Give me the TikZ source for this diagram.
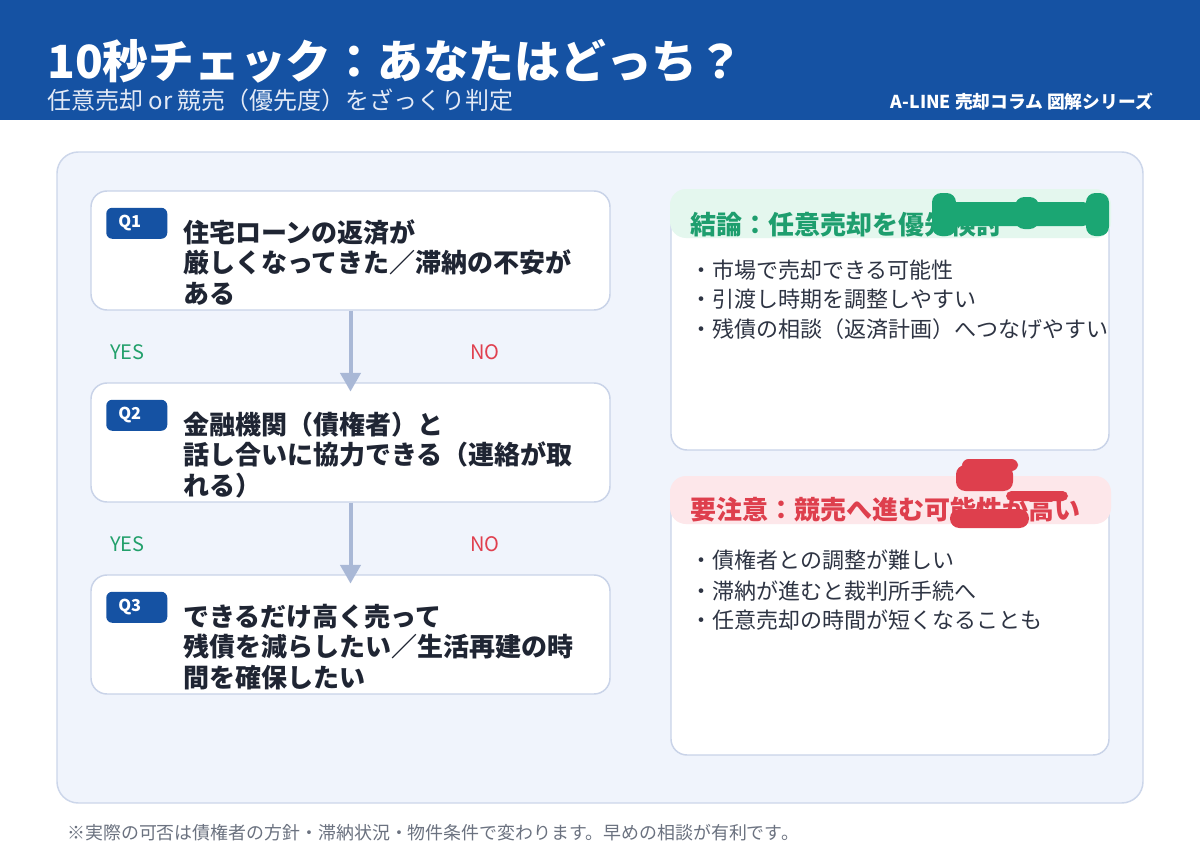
\documentclass[tikz,border=0pt]{standalone}
\usepackage{fontspec}
\setmainfont{Noto Sans CJK JP}
\usetikzlibrary{arrows.meta}
\definecolor{hdrblue}{HTML}{1552A3}
\definecolor{panelbg}{HTML}{F0F4FC}
\definecolor{panelborder}{HTML}{CCD6EA}
\definecolor{boxborder}{HTML}{C9D3E8}
\definecolor{arrowcol}{HTML}{A9B8D6}
\definecolor{yesgreen}{HTML}{22A06B}
\definecolor{nored}{HTML}{E0404F}
\definecolor{greenband}{HTML}{E4F7EE}
\definecolor{greentitle}{HTML}{1E9E6E}
\definecolor{scribgreen}{HTML}{1BA673}
\definecolor{redband}{HTML}{FDE7EA}
\definecolor{redtitle}{HTML}{DE3F4D}
\definecolor{textdark}{HTML}{1F2533}
\definecolor{bullettext}{HTML}{2E3443}
\definecolor{footgray}{HTML}{6B7280}
\definecolor{subwhite}{HTML}{E3EAF6}
\begin{document}
\begin{tikzpicture}[x=0.75pt,y=-0.75pt,
  qbox/.style={draw=boxborder, line width=1.1pt, fill=white, rounded corners=12pt,
    minimum width=389.25pt, minimum height=89.25pt, inner sep=0},
  badge/.style={fill=hdrblue, rounded corners=4.5pt, anchor=north west,
    minimum height=23.25pt, text width=27.75pt, inner xsep=9pt, inner ysep=0, align=left,
    text=white, font=\fontsize{12.3}{14}\selectfont\bfseries},
  qtext/.style={anchor=base west, inner sep=0, text=textdark, font=\fontsize{19.5}{23}\selectfont\bfseries},
  yeslbl/.style={anchor=west, inner sep=0, text=yesgreen, font=\fontsize{15}{18}\selectfont},
  nolbl/.style={anchor=west, inner sep=0, text=nored, font=\fontsize{15}{18}\selectfont},
  flow/.style={draw=arrowcol, line width=3pt, -{Triangle[width=15pt,length=14pt]}, shorten >=-7pt},
  card/.style={fill=white, draw=boxborder, line width=1.1pt, rounded corners=12pt},
  ctitle/.style={anchor=base west, inner sep=0, font=\fontsize{19.5}{23}\selectfont\bfseries},
  bullet/.style={anchor=base west, inner sep=0, text=bullettext, font=\fontsize{16.5}{20}\selectfont},
  scrib/.style={rounded corners=7pt}
]
\useasboundingbox (0,0) rectangle (1200,860);
\fill[white] (0,0) rectangle (1200,860);
% header
\fill[hdrblue] (0,0) rectangle (1200,120);
\node[anchor=base west, inner sep=0, text=white, font=\fontsize{34.3}{40}\selectfont\bfseries] (title) at (47,78) {10秒チェック：あなたはどっち？};
\node[anchor=base west, inner sep=0, text=subwhite, font=\fontsize{18}{21}\selectfont] (subtitle) at (47,109) {任意売却 or 競売（優先度）をざっくり判定};
\node[anchor=base east, inner sep=0, text=white, font=\fontsize{13.3}{15}\selectfont\bfseries] (series) at (1153,108) {A-LINE 売却コラム 図解シリーズ};
% panel
\filldraw[fill=panelbg, draw=panelborder, line width=1.1pt, rounded corners=16pt] (57,152) rectangle (1143,803);
% question boxes
\node[qbox] (q1) at (350.5,250.5) {};
\node[qbox] (q2) at (350.5,442.5) {};
\node[qbox] (q3) at (350.5,634.5) {};
\node[badge] (b1) at (106,207.5) {Q1};
\node[badge] (b2) at (106,399.5) {Q2};
\node[badge] (b3) at (106,591.5) {Q3};
\node[qtext] (q1a) at (183,242) {住宅ローンの返済が};
\node[qtext] (q1b) at (183,272.5) {厳しくなってきた／滞納の不安が};
\node[qtext] (q1c) at (183,303) {ある};
\node[qtext] (q2a) at (183,434) {金融機関（債権者）と};
\node[qtext] (q2b) at (183,464.5) {話し合いに協力できる（連絡が取};
\node[qtext] (q2c) at (183,495) {れる）};
\node[qtext] (q3a) at (183,626) {できるだけ高く売って};
\node[qtext] (q3b) at (183,656.5) {残債を減らしたい／生活再建の時};
\node[qtext] (q3c) at (183,687) {間を確保したい};
% arrows
\draw[flow] (q1.south) -- (q2.north);
\draw[flow] (q2.south) -- (q3.north);
% yes/no labels
\node[yeslbl] (y1) at (110,352) {YES};
\node[nolbl] (n1) at (470,352) {NO};
\node[yeslbl] (y2) at (110,544) {YES};
\node[nolbl] (n2) at (470,544) {NO};
% green card
\filldraw[card] (671,191) rectangle (1109,450);
\fill[greenband, rounded corners=12pt] (670,189) rectangle (1111,238);
\node[ctitle, text=greentitle] (gtitle) at (690,234) {結論：任意売却を優先検討};
\node[bullet] (g1) at (690,278) {・市場で売却できる可能性};
\node[bullet] (g2) at (690,307) {・引渡し時期を調整しやすい};
\node[bullet] (g3) at (690,337) {・残債の相談（返済計画）へつなげやすい};
% green scribbles
\fill[scribgreen, scrib] (932,193) rectangle (956,236);
\fill[scribgreen, scrib] (948,202) rectangle (1092,226);
\fill[scribgreen, scrib] (1015,197) rectangle (1039,229);
\fill[scribgreen, scrib] (1086,193) rectangle (1109,236);
% red card
\filldraw[card] (671,478) rectangle (1109,755);
\fill[redband, rounded corners=12pt] (670,476) rectangle (1111,524);
\node[ctitle, text=redtitle] (rtitle) at (690,519) {要注意：競売へ進む可能性が高い};
\node[bullet] (r1) at (690,568) {・債権者との調整が難しい};
\node[bullet] (r2) at (690,599) {・滞納が進むと裁判所手続へ};
\node[bullet] (r3) at (690,628) {・任意売却の時間が短くなることも};
% red scribbles
\fill[redtitle, rounded corners=5pt] (962,459) rectangle (1018,471);
\fill[redtitle, scrib] (956,465) rectangle (1013,491);
\fill[redtitle, rounded corners=4pt] (1006,491) rectangle (1068,501);
\fill[redtitle, scrib] (950,509) rectangle (1029,528);
% footer
\node[anchor=base west, inner sep=0, text=footgray, font=\fontsize{13.45}{16}\selectfont] (foot) at (67,839) {※実際の可否は債権者の方針・滞納状況・物件条件で変わります。早めの相談が有利です。};
\end{tikzpicture}
\end{document}
